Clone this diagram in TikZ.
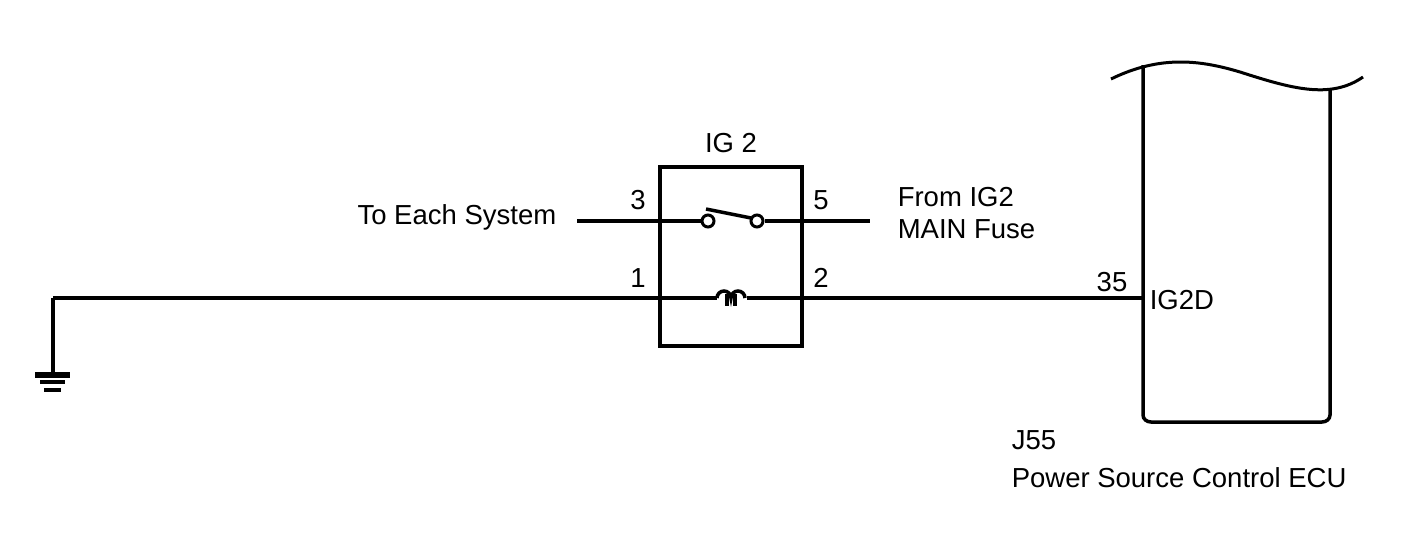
\documentclass[tikz,border=0pt]{standalone}
\usepackage{fontspec}
\setmainfont{Liberation Sans}
\begin{document}
\begin{tikzpicture}[x=1pt,y=-1pt,line width=3.5pt,
  lbl/.style={inner sep=0pt,font=\fontsize{27.5}{32}\selectfont},
  term/.style={circle,draw,line width=3pt,minimum size=12pt,inner sep=0pt,fill=white}]
\useasboundingbox (0,0) rectangle (1424,558);
% relay box
\draw (660,167) rectangle (802,346);
\node[lbl] (ig) at (731,143) {IG 2};
% switch
\coordinate (w3) at (577,221);
\coordinate (w5) at (870,221);
\node[term] (c1) at (708,221) {};
\node[term] (c2) at (757,221) {};
\draw (w3) -- (c1.west);
\draw (c2.east) -- (w5);
\draw (706,209) -- (751,218);
% coil line
\coordinate (g) at (53,298);
\coordinate (e) at (1142,298);
\draw (g) -- (717,298);
\draw (747,298) -- (e);
\draw[line width=3.5pt] (717,298) to[out=90,in=180] (724,291) to[out=0,in=90] (731,298) to[out=90,in=180] (738,291) to[out=0,in=90] (745,298);
\draw[line width=4pt] (727,294)--(727,306) (735,294)--(735,306);
% ground
\draw (g) -- (53,373);
\draw[line width=6pt] (35,375) -- (70,375);
\draw[line width=4.5pt] (40,382) -- (65,382);
\draw[line width=4.5pt] (44,390) -- (61,390);
% ECU
\draw (1143,65) -- (1143,415) to[out=-90,in=180] (1151,422) -- (1322,422) to[out=0,in=-90] (1330,415) -- (1330,90);
\draw[line width=3pt] (1111,79) .. controls (1160,55) and (1200,60) .. (1240,72) .. controls (1290,88) and (1330,100) .. (1363,77);
% labels
\node[lbl] (t3) at (638,200) {3};
\node[lbl] (t5) at (821,200) {5};
\node[lbl] (t1) at (638,278) {1};
\node[lbl] (t2) at (821,278) {2};
\node[lbl] (t35) at (1112,282) {35};
\node[lbl,anchor=west] (ig2d) at (1148,300) {IG2D};
\node[lbl,anchor=east] (tes) at (558,217) {To Each System};
\node[lbl,anchor=west] (f1) at (896,197) {From IG2};
\node[lbl,anchor=west] (f2) at (896,229) {MAIN Fuse};
\node[lbl,anchor=west] (j) at (1010,440) {J55};
\node[lbl,anchor=west] (p) at (1010,478) {Power Source Control ECU};
\end{tikzpicture}
\end{document}
